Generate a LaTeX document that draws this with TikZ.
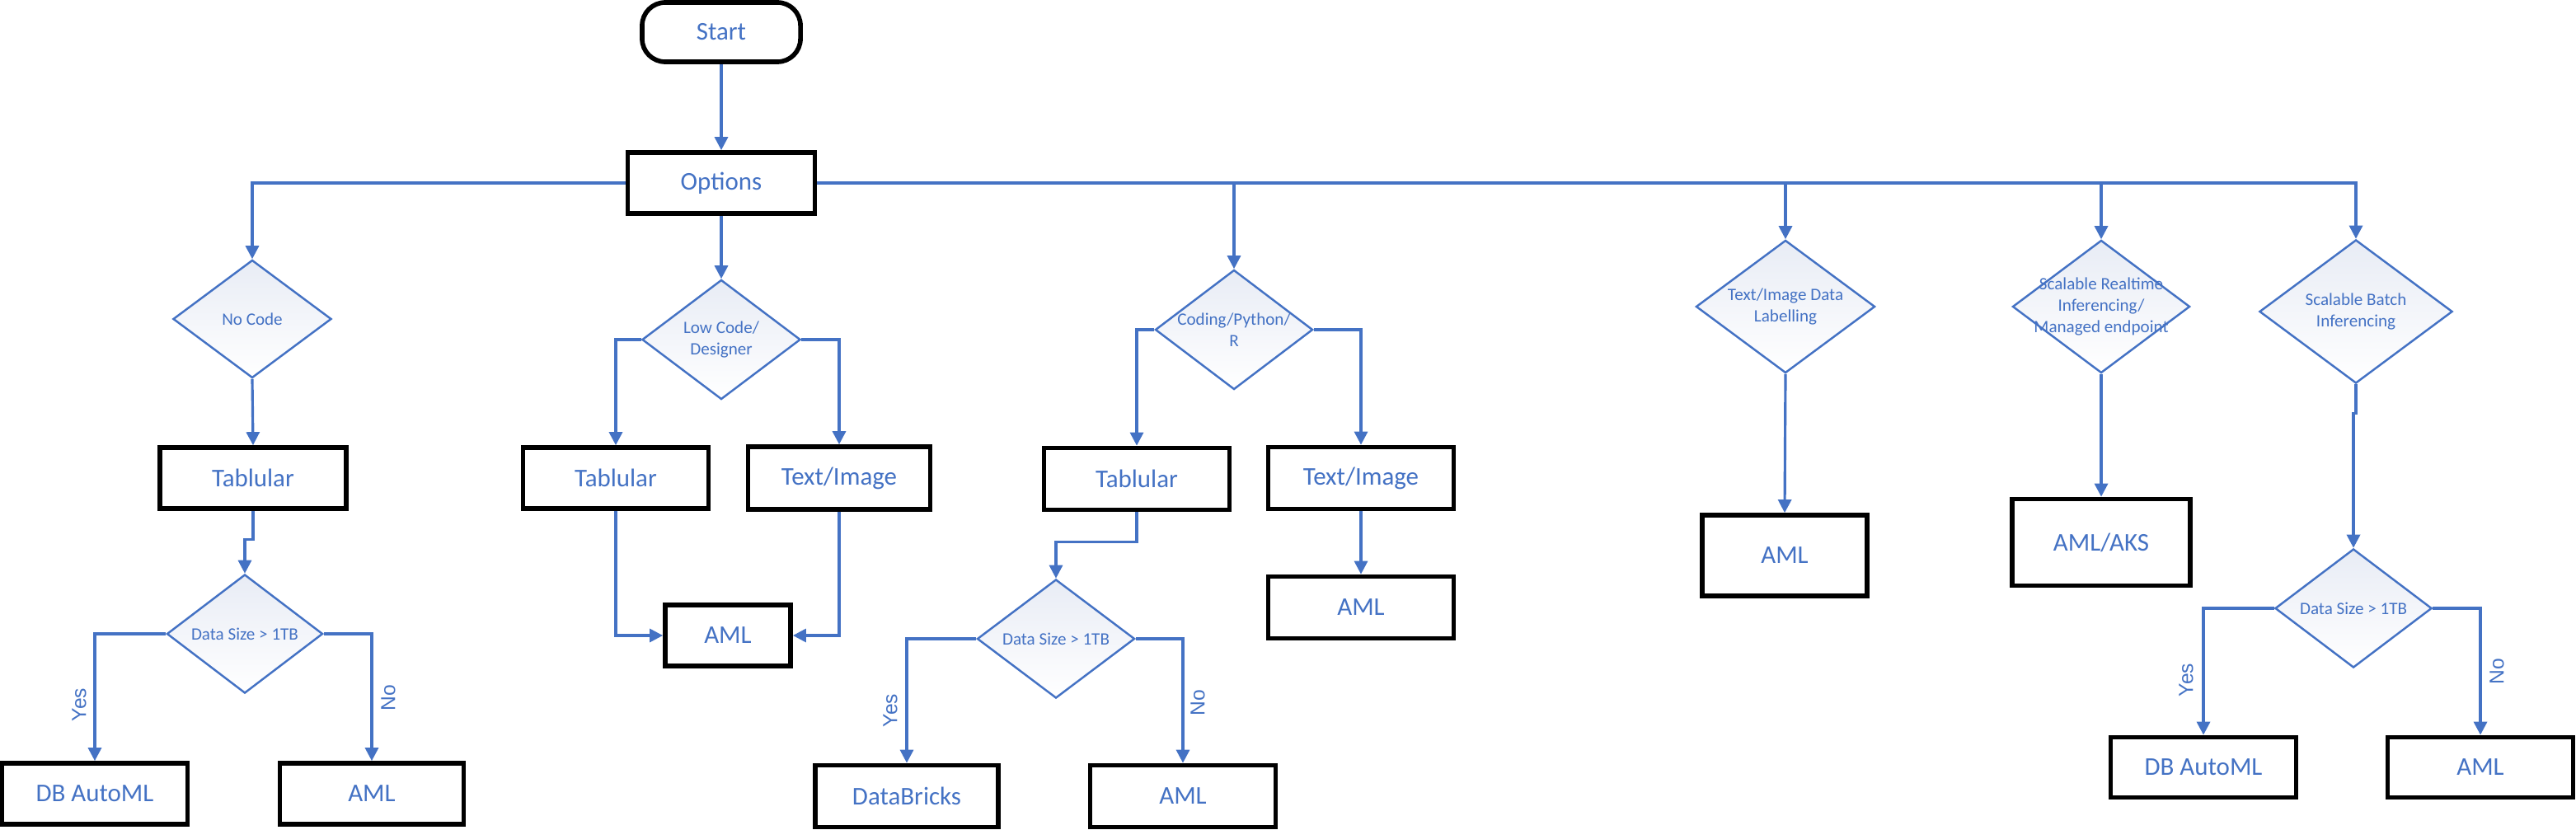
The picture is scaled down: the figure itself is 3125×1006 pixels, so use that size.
\documentclass[tikz,border=0pt]{standalone}
\usepackage{fontspec}
\setmainfont{Carlito}
\newfontfamily\lblfont{Liberation Sans}
\usetikzlibrary{shapes.geometric,arrows.meta}
\definecolor{fblue}{RGB}{68,114,196}
\definecolor{dfill}{RGB}{232,236,245}
\begin{document}
\begin{tikzpicture}[x=0.01cm,y=-0.01cm,
  box/.style={draw=black, line width=1.6pt, fill=white, minimum width=2.25cm, minimum height=0.74cm, inner sep=0pt, text=fblue, font=\fontsize{8.8}{10}\selectfont},
  term/.style={box, rounded corners=0.28cm},
  dia/.style={diamond, draw=fblue, line width=0.7pt, top color=dfill, bottom color=white, inner sep=0pt},
  dtext/.style={text=fblue, align=center, font=\fontsize{6}{7.3}\selectfont, inner sep=0pt},
  conn/.style={draw=fblue, line width=0.9pt, -{Triangle[length=0.16cm,width=0.16cm]}},
  lbl/.style={text=fblue, font=\lblfont\fontsize{7}{8}\selectfont, rotate=90, inner sep=0pt}
]
\useasboundingbox (0,0) rectangle (3125,1006);

% top
\node[term, minimum width=1.92cm, minimum height=0.72cm] (start) at (875,39) {Start};
\node[box, minimum width=2.27cm] (opt) at (875,222) {Options};

% decisions level 1
\node[dia, minimum width=1.92cm, minimum height=1.43cm] (d1) at (306,387) {};
\node[dtext] (d1t) at (d1) {No Code};
\node[dia, minimum width=1.92cm, minimum height=1.45cm] (d2) at (875,412) {};
\node[dtext] (d2t) at (d2) {Low Code/\\Designer};
\node[dia, minimum width=1.91cm, minimum height=1.45cm] (d3) at (1497,400) {};
\node[dtext] (d3t) at (d3) {Coding/Python/\\R};
\node[dia, minimum width=2.17cm, minimum height=1.61cm] (d4) at (2166,372) {};
\node[dtext] (d4t) at (d4) {Text/Image Data\\Labelling};
\node[dia, minimum width=2.15cm, minimum height=1.61cm] (d5) at (2549,372) {};
\node[dtext] (d5t) at (d5) {Scalable Realtime\\Inferencing/\\Managed endpoint};
\node[dia, minimum width=2.34cm, minimum height=1.74cm] (d6) at (2858,378) {};
\node[dtext] (d6t) at (d6) {Scalable Batch\\Inferencing};

% No code branch
\node[box, minimum width=2.26cm] (t1) at (307,580) {Tablular};
\node[dia, minimum width=1.89cm, minimum height=1.44cm] (ds1) at (297,769) {};
\node[dtext] (ds1t) at (ds1) {Data Size > 1TB};
\node[box] (b1) at (115,963) {DB AutoML};
\node[box, minimum width=2.23cm] (b2) at (451,963) {AML};
\node[lbl] (y1) at (96,855) {Yes};
\node[lbl] (n1) at (471,847) {No};

% Low code branch
\node[box] (t2) at (747,580) {Tablular};
\node[box, minimum width=2.21cm, minimum height=0.76cm] (t3) at (1018,580) {Text/Image};
\node[box, minimum width=1.52cm] (a1) at (883,771) {AML};

% Coding branch
\node[box, minimum height=0.75cm] (t4) at (1379,581) {Tablular};
\node[box, minimum height=0.75cm] (t5) at (1651,580) {Text/Image};
\node[box, minimum height=0.75cm] (a2) at (1651,737) {AML};
\node[dia, minimum width=1.91cm, minimum height=1.44cm] (ds2) at (1281,775) {};
\node[dtext] (ds2t) at (ds2) {Data Size > 1TB};
\node[box, minimum width=2.22cm, minimum height=0.75cm] (b3) at (1100,966) {DataBricks};
\node[box, minimum height=0.75cm] (b4) at (1435,966) {AML};
\node[lbl] (y2) at (1080,862) {Yes};
\node[lbl] (n2) at (1453,853) {No};

% Labelling / realtime
\node[box, minimum width=2.0cm, minimum height=0.98cm] (a3) at (2165,674) {AML};
\node[box, minimum width=2.16cm, minimum height=1.05cm] (a4) at (2549,658) {AML/AKS};

% Batch branch
\node[dia, minimum width=1.90cm, minimum height=1.44cm] (ds3) at (2855,738) {};
\node[dtext] (ds3t) at (ds3) {Data Size > 1TB};
\node[box, minimum height=0.73cm] (b5) at (2673,931) {DB AutoML};
\node[box, minimum height=0.73cm] (b6) at (3009,931) {AML};
\node[lbl] (y3) at (2652,825) {Yes};
\node[lbl] (n3) at (3029,815) {No};

% connectors
\draw[conn] (start) -- (opt);
\draw[conn] (opt.west) -| (d1.north);
\draw[conn] (opt.south) -- (d2.north);
\draw[conn] (opt.east) -| (d3.north);
\draw[conn] (opt.east) -| (d4.north);
\draw[conn] (opt.east) -| (d5.north);
\draw[conn] (opt.east) -| (d6.north);

\draw[conn] (d1.south) -- (t1.north);
\draw[conn] (t1.south) -- ++(0,35) -| (ds1.north);
\draw[conn] (ds1.west) -| (b1.north);
\draw[conn] (ds1.east) -| (b2.north);

\draw[conn] (d2.west) -| (t2.north);
\draw[conn] (d2.east) -| (t3.north);
\draw[conn] (t2.south) |- (a1.west);
\draw[conn] (t3.south) |- (a1.east);

\draw[conn] (d3.west) -| (t4.north);
\draw[conn] (d3.east) -| (t5.north);
\draw[conn] (t5.south) -- (a2.north);
\draw[conn] (t4.south) -- ++(0,36) -| (ds2.north);
\draw[conn] (ds2.west) -| (b3.north);
\draw[conn] (ds2.east) -| (b4.north);

\draw[conn] (d4.south) -- (a3.north);
\draw[conn] (d5.south) -- (a4.north);
\draw[conn] (d6.south) -- ++(0,35) -| (ds3.north);
\draw[conn] (ds3.west) -| (b5.north);
\draw[conn] (ds3.east) -| (b6.north);
\end{tikzpicture}
\end{document}
